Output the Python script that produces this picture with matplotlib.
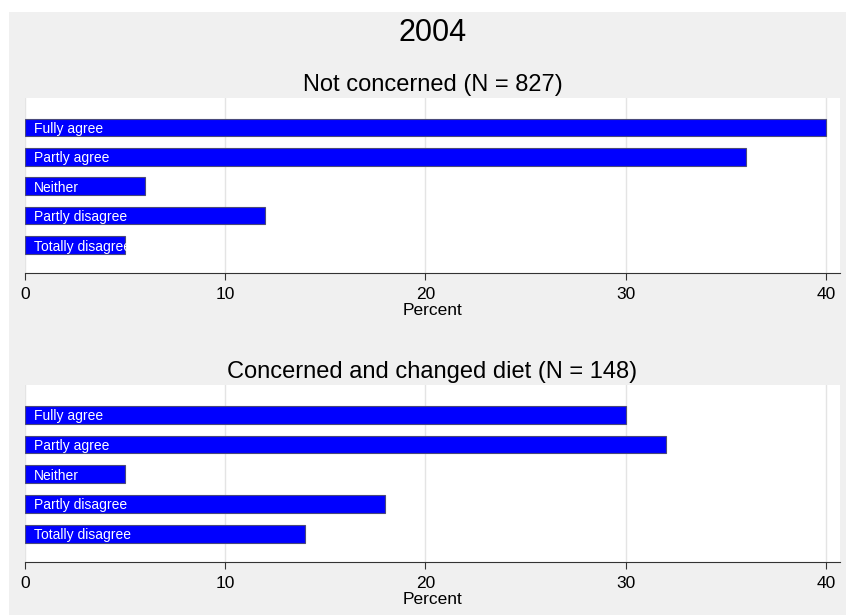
import numpy as np
import matplotlib.pyplot as plt
from matplotlib.patches import Rectangle

plt.rcParams['font.family'] = ['Liberation Sans', 'DejaVu Sans']

# categorii si valori (procente)
categorii = ["Fully agree", "Partly agree", "Neither", "Partly disagree", "Totally disagree"]
not_concerned = [40, 36, 6, 12, 5]
changed_diet = [30, 32, 5, 18, 14]
titluri = ["Not concerned (N = 827)", "Concerned and changed diet (N = 148)"]
xticks = [0, 10, 20, 30, 40]

W, H = 846, 615
fig = plt.figure(figsize=(W / 100, H / 100), dpi=100, facecolor="white")
# fundal gri
fig.patches.append(Rectangle((9 / W, 0), 1 - 9 / W, 1 - 12 / H,
                             transform=fig.transFigure, facecolor="#f0f0f0",
                             edgecolor="none", zorder=-10))

fig.text(433 / W, 1 - 33 / H, "2004", fontsize=22, ha="center", va="center")


def panou(ax, valori, titlu):
    y = np.arange(len(categorii))
    ax.barh(y, valori, height=0.6, color="#0000ff", edgecolor="#4a4a7a",
            linewidth=0.8, zorder=3)
    for yi, cat in zip(y, categorii):
        ax.text(0.45, yi + 0.05, cat, color="white", fontsize=10, va="center",
                ha="left", zorder=4)
    ax.set_ylim(len(categorii) - 0.05, -1.0)
    ax.set_xlim(0, 40.7)
    ax.set_xticks(xticks)
    ax.tick_params(axis="x", labelsize=12.5, length=5, pad=5, color="#333333")
    ax.set_yticks([])
    for s in ["top", "right", "left"]:
        ax.spines[s].set_visible(False)
    ax.spines["bottom"].set_color("#333333")
    ax.grid(axis="x", color="#e4e4e4", linewidth=1, zorder=0)
    ax.set_xlabel("Percent", fontsize=12.5, labelpad=1)
    ax.set_title(titlu, fontsize=17, pad=5)
    ax.set_facecolor("white")


ax1 = fig.add_axes([25 / W, 1 - 273 / H, 815 / W, 175 / H])
ax2 = fig.add_axes([25 / W, 1 - 562 / H, 815 / W, 177 / H])
panou(ax1, not_concerned, titluri[0])
panou(ax2, changed_diet, titluri[1])

plt.savefig("out.png", dpi=100, facecolor=fig.get_facecolor())
